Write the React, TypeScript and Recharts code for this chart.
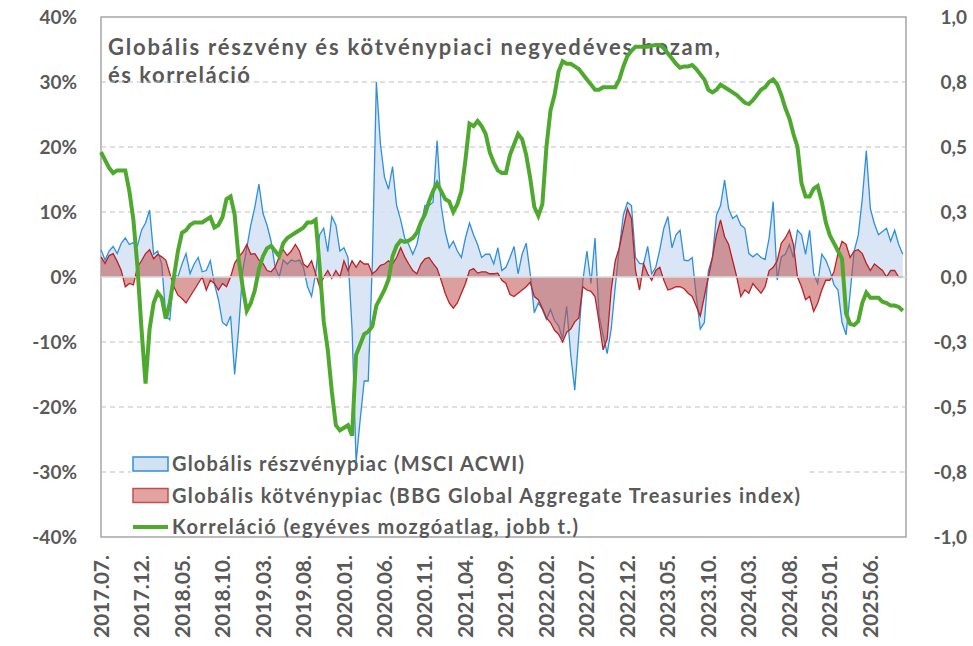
import { ComposedChart, Area, Line, XAxis, YAxis, CartesianGrid, ReferenceLine } from "recharts";

// x tick labels, one every 5 months from 2017.07.
const tickLabels = [
  "2017.07.", "2017.12.", "2018.05.", "2018.10.", "2019.03.", "2019.08.", "2020.01.",
  "2020.06.", "2020.11.", "2021.04.", "2021.09.", "2022.02.", "2022.07.", "2022.12.",
  "2023.05.", "2023.10.", "2024.03.", "2024.08.", "2025.01.", "2025.06.",
];

// half-monthly samples from 2017.07
// quarterly return, MSCI ACWI (%)
const equity = [
  4.2, 2.6, 4.0, 4.7, 3.6, 5.2, 6.0, 5.0, 5.3, 4.8,
  7.2, 8.3, 10.3, 3.5, 4.0, 2.0, -6.0, -6.6, 0.5, 0.0,
  2.0, 3.6, 0.5, 2.0, 3.0, 0.8, 1.0, 2.5, -1.0, -3.5,
  -7.0, -7.5, -6.0, -15.0, -8.0, 1.0, 4.5, 8.0, 10.8, 14.3,
  9.8, 8.0, 5.5, 1.5, 0.0, 2.6, 2.0, 2.6, 2.4, 2.6,
  1.5, -1.5, -3.0, 0.5, 6.5, 7.5, 3.9, 9.3, 8.0, 4.0,
  4.5, 3.0, -8.0, -28.5, -22.0, -16.0, -16.0, 2.0, 30.0, 20.5,
  15.4, 13.5, 17.0, 11.0, 8.8, 6.0, 5.0, 3.5, 5.0, 8.0,
  11.0, 11.0, 11.5, 21.0, 11.0, 7.0, 4.5, 5.5, 4.0, 3.0,
  6.0, 8.3, 6.5, 5.0, 3.0, 3.5, 3.5, 2.0, 4.5, 1.0,
  1.5, 3.0, 4.7, 0.5, 3.5, 5.2, 0.5, -5.5, -4.0, -5.0,
  -6.5, -5.0, -6.7, -7.5, -9.5, -4.5, -12.0, -17.4, -9.0, -0.5,
  4.0, -1.0, 6.0, -6.0, -9.0, -11.8, -8.0, -1.5, 4.5, 9.5,
  11.5, 11.0, 3.0, 2.1, 2.0, 4.7, 0.5, 1.5, 4.2, 7.5,
  9.3, 4.5, 6.5, 7.2, 2.6, 2.5, 3.0, -3.0, -8.0, -7.0,
  1.0, 3.0, 9.5, 11.0, 14.9, 10.5, 9.0, 9.5, 8.0, 7.5,
  3.6, 3.1, 3.6, 3.0, 2.7, 6.0, 11.6, -0.5, 3.1, 3.5,
  5.0, 3.0, 7.2, 6.5, 3.5, 7.2, 0.5, -1.0, 3.5, 2.6,
  1.0, -1.2, -2.0, -7.0, -8.9, -2.5, 4.0, 6.4, 12.0, 19.4,
  10.5, 8.2, 6.5, 7.0, 7.5, 5.5, 7.2, 5.0, 3.5,
];

// quarterly return, BBG Global Aggregate Treasuries (%)
const bond = [
  3.1, 2.1, 3.3, 3.6, 2.4, 1.0, -1.5, -1.0, -1.2, 1.5,
  2.5, 3.6, 4.2, 2.8, 3.5, 3.1, 2.6, 0.5, -1.5, -2.8,
  -3.3, -4.0, -3.0, -2.0, -1.0, 0.0, -2.0, -0.5, -1.0, -2.0,
  -1.0, -1.5, 0.0, 2.1, 3.1, 3.8, 5.0, 3.5, 3.6, 2.6,
  2.1, 1.0, 0.8, 1.5, 3.1, 4.2, 3.3, 4.0, 5.0, 4.0,
  2.0, 1.5, 2.5, 0.5, -1.5, 0.0, 1.0, -0.2, 1.0, 0.0,
  2.5, 1.0, 2.5, 1.5, 2.5, 2.0, 2.0, 0.5, 1.0, 1.8,
  2.0, 2.5, 2.0, 3.0, 4.5, 3.1, 2.0, 1.0, 0.5, 2.0,
  2.8, 3.0, 2.1, 1.3, -0.5, -2.5, -4.0, -4.8, -4.0, -2.5,
  -1.0, 1.0, 1.3, 0.6, 0.8, 0.8, 0.5, 0.5, 0.6, -0.5,
  -1.0, -2.7, -3.0, -2.5, -2.0, -1.5, -0.8, -3.0, -3.5, -4.8,
  -6.3, -7.0, -8.2, -8.8, -10.0, -8.5, -8.0, -6.9, -6.3, -1.5,
  -2.0, -2.2, -3.0, -7.0, -11.2, -9.5, -2.0, 2.5, 4.5, 7.5,
  10.5, 9.0, 1.0, -2.0, 2.0, 0.5, -0.5, 1.0, 1.5, -0.5,
  -2.0, -1.8, -1.5, -1.5, -1.8, -2.5, -3.0, -4.5, -6.0, -3.0,
  0.0, 3.0, 6.5, 8.8, 6.2, 5.0, 2.5, 0.0, -3.0, -2.0,
  -2.5, -1.0, -1.8, -2.5, -1.5, 1.0, 1.5, 2.5, 5.2, 6.0,
  7.2, 5.0, 0.0, -1.5, -3.5, -3.0, -5.3, -4.0, -2.0, -0.5,
  -0.5, 0.8, 3.6, 5.5, 5.0, 3.0, 4.0, 4.2, 3.6, 2.1,
  1.0, 2.0, 1.5, 1.0, 0.0, 1.0, 1.0, 0.0, 0.0,
];

// 1y moving correlation (right axis)
const corr = [
  0.48, 0.45, 0.42, 0.40, 0.41, 0.41, 0.41, 0.33, 0.22, 0.04,
  -0.20, -0.41, -0.20, -0.10, -0.06, -0.08, -0.16, -0.10, 0.0, 0.10,
  0.17, 0.18, 0.20, 0.21, 0.21, 0.21, 0.22, 0.23, 0.19, 0.20,
  0.23, 0.30, 0.31, 0.24, 0.07, -0.04, -0.13, -0.10, -0.05, 0.03,
  0.08, 0.11, 0.12, 0.10, 0.08, 0.13, 0.15, 0.16, 0.17, 0.18,
  0.19, 0.21, 0.21, 0.22, 0.04, -0.17, -0.28, -0.44, -0.57, -0.59,
  -0.58, -0.57, -0.61, -0.30, -0.26, -0.22, -0.21, -0.19, -0.11, -0.08,
  -0.05, -0.01, 0.08, 0.12, 0.14, 0.135, 0.14, 0.15, 0.17, 0.21,
  0.24, 0.29, 0.33, 0.36, 0.33, 0.30, 0.29, 0.25, 0.28, 0.33,
  0.45, 0.59, 0.58, 0.60, 0.58, 0.55, 0.48, 0.44, 0.41, 0.40,
  0.40, 0.47, 0.51, 0.55, 0.53, 0.47, 0.38, 0.27, 0.235, 0.28,
  0.50, 0.64, 0.70, 0.79, 0.83, 0.82, 0.82, 0.81, 0.80, 0.78,
  0.76, 0.74, 0.72, 0.72, 0.73, 0.73, 0.73, 0.73, 0.76, 0.81,
  0.85, 0.87, 0.886, 0.886, 0.886, 0.886, 0.89, 0.892, 0.892, 0.88,
  0.86, 0.84, 0.82, 0.805, 0.81, 0.81, 0.815, 0.80, 0.78, 0.76,
  0.72, 0.71, 0.72, 0.74, 0.73, 0.72, 0.71, 0.70, 0.685, 0.67,
  0.665, 0.68, 0.70, 0.72, 0.73, 0.75, 0.76, 0.74, 0.70, 0.65,
  0.61, 0.55, 0.50, 0.36, 0.31, 0.31, 0.34, 0.35, 0.29, 0.21,
  0.16, 0.13, 0.10, 0.07, -0.14, -0.18, -0.185, -0.17, -0.10, -0.06,
  -0.08, -0.08, -0.08, -0.095, -0.10, -0.11, -0.11, -0.115, -0.13,
];

const leftTicks = [-40, -30, -20, -10, 0, 10, 20, 30, 40];
const rightTicks = [-1, -0.75, -0.5, -0.25, 0, 0.25, 0.5, 0.75, 1];

const legendItems = [
  { name: "Globális részvénypiac (MSCI ACWI)", kind: "eq", len: 352 },
  { name: "Globális kötvénypiac (BBG Global Aggregate Treasuries index)", kind: "bd", len: 628 },
  { name: "Korreláció (egyéves mozgóatlag, jobb t.)", kind: "cr", len: 406 },
];

const W = 973;
const H = 646;
const INK = "#595959";
const FONT = "Lato, 'Open Sans', sans-serif";
const BLUE = "#2F8FDB";
const BLUE_FILL = "#D3E2F3";
const RED = "#B8232A";
const RED_FILL = "#C0504D";
const GREEN = "#4FA92F";
const X_MAX = 99.4;

const rows = equity.map((v, i) => ({ m: i / 2, eq: v, bd: bond[i], cr: corr[i] }));

const XTick = ({ x, payload }: any) => (
  <text
    x={x}
    y={555}
    dy="0.36em"
    transform={`rotate(-90 ${x} 555)`}
    textAnchor="end"
    fill={INK}
    fontSize={21}
    fontWeight={700}
    fontFamily={FONT}
  >
    {tickLabels[Math.round(payload.value / 5)]}
  </text>
);

const LeftTick = ({ y, payload }: any) => (
  <text x={77} y={y} dy="0.36em" textAnchor="end" fill={INK} fontSize={19} fontWeight={700} fontFamily={FONT}>
    {payload.value}%
  </text>
);

const RightTick = ({ y, payload }: any) => (
  <text x={967} y={y} dy="0.36em" textAnchor="end" fill={INK} fontSize={19} fontWeight={700} fontFamily={FONT}>
    {payload.value.toFixed(1).replace(".", ",")}
  </text>
);

function Backdrop() {
  return (
    <svg width={W} height={H} style={{ position: "absolute", left: 0, top: 0 }}>
      <rect x={101} y={17} width={805} height={520} fill="none" stroke="#A6A6A6" strokeWidth={1.5} />
      <g fill={INK} fontFamily={FONT} fontWeight={700} fontSize={22}>
        <text x={108} y={55} textLength={612} lengthAdjust="spacing">
          Globális részvény és kötvénypiaci negyedéves hozam,
        </text>
        <text x={108} y={83} textLength={142} lengthAdjust="spacing">
          és korreláció
        </text>
      </g>
      {legendItems.map((it, i) => {
        const cy = 464 + i * 31.5;
        return (
          <g key={it.kind}>
            {it.kind === "eq" && (
              <rect x={133} y={cy - 7} width={35} height={14} fill={BLUE_FILL} stroke={BLUE} strokeWidth={1.5} />
            )}
            {it.kind === "bd" && (
              <rect x={133} y={cy - 7} width={35} height={14} fill="#E2A3A2" stroke="#C0504D" strokeWidth={1.5} />
            )}
            {it.kind === "cr" && <line x1={133} x2={168} y1={cy} y2={cy} stroke={GREEN} strokeWidth={4} />}
            <text
              x={172}
              y={cy + 7}
              fill={INK}
              fontFamily={FONT}
              fontWeight={700}
              fontSize={20}
              textLength={it.len}
              lengthAdjust="spacing"
            >
              {it.name}
            </text>
          </g>
        );
      })}
    </svg>
  );
}

export default function App() {
  return (
    <div style={{ position: "absolute", left: 0, top: 0, width: W, height: H, background: "#fff" }}>
      <Backdrop />
      <div style={{ position: "absolute", left: 0, top: 0 }}>
        <ComposedChart width={W} height={H} data={rows} margin={{ top: 17, right: 0, bottom: 0, left: 0 }}>
          <CartesianGrid
            yAxisId="left"
            vertical={false}
            horizontalValues={[-20, -10, 10, 20, 30]}
            stroke="#BFBFBF"
            strokeDasharray="5 4"
          />
          <XAxis
            dataKey="m"
            type="number"
            domain={[0, X_MAX]}
            ticks={tickLabels.map((_, k) => k * 5)}
            interval={0}
            height={109}
            axisLine={false}
            tickLine={false}
            tick={<XTick />}
          />
          <YAxis
            yAxisId="left"
            width={101}
            domain={[-40, 40]}
            ticks={leftTicks}
            axisLine={false}
            tickLine={false}
            tick={<LeftTick />}
          />
          <YAxis
            yAxisId="right"
            orientation="right"
            width={67}
            domain={[-1, 1]}
            ticks={rightTicks}
            axisLine={false}
            tickLine={false}
            tick={<RightTick />}
          />
          {/* -30% gridline only shows outside the legend block */}
          <ReferenceLine
            yAxisId="left"
            segment={[{ x: 0, y: -30 }, { x: 3.7, y: -30 }]}
            stroke="#BFBFBF"
            strokeDasharray="5 4"
          />
          <ReferenceLine
            yAxisId="left"
            segment={[{ x: 87.5, y: -30 }, { x: X_MAX, y: -30 }]}
            stroke="#BFBFBF"
            strokeDasharray="5 4"
          />
          <Area
            yAxisId="left"
            dataKey="eq"
            type="linear"
            baseValue={0}
            stroke={BLUE}
            strokeWidth={1.3}
            fill={BLUE_FILL}
            fillOpacity={0.85}
            isAnimationActive={false}
          />
          <Area
            yAxisId="left"
            dataKey="bd"
            type="linear"
            baseValue={0}
            stroke={RED}
            strokeWidth={1.3}
            fill={RED_FILL}
            fillOpacity={0.55}
            isAnimationActive={false}
          />
          <ReferenceLine yAxisId="left" y={0} stroke="#D9D9D9" strokeWidth={2} strokeOpacity={0.8} />
          <Line
            yAxisId="right"
            dataKey="cr"
            type="linear"
            stroke={GREEN}
            strokeWidth={4}
            dot={false}
            activeDot={false}
            isAnimationActive={false}
          />
        </ComposedChart>
      </div>
    </div>
  );
}
